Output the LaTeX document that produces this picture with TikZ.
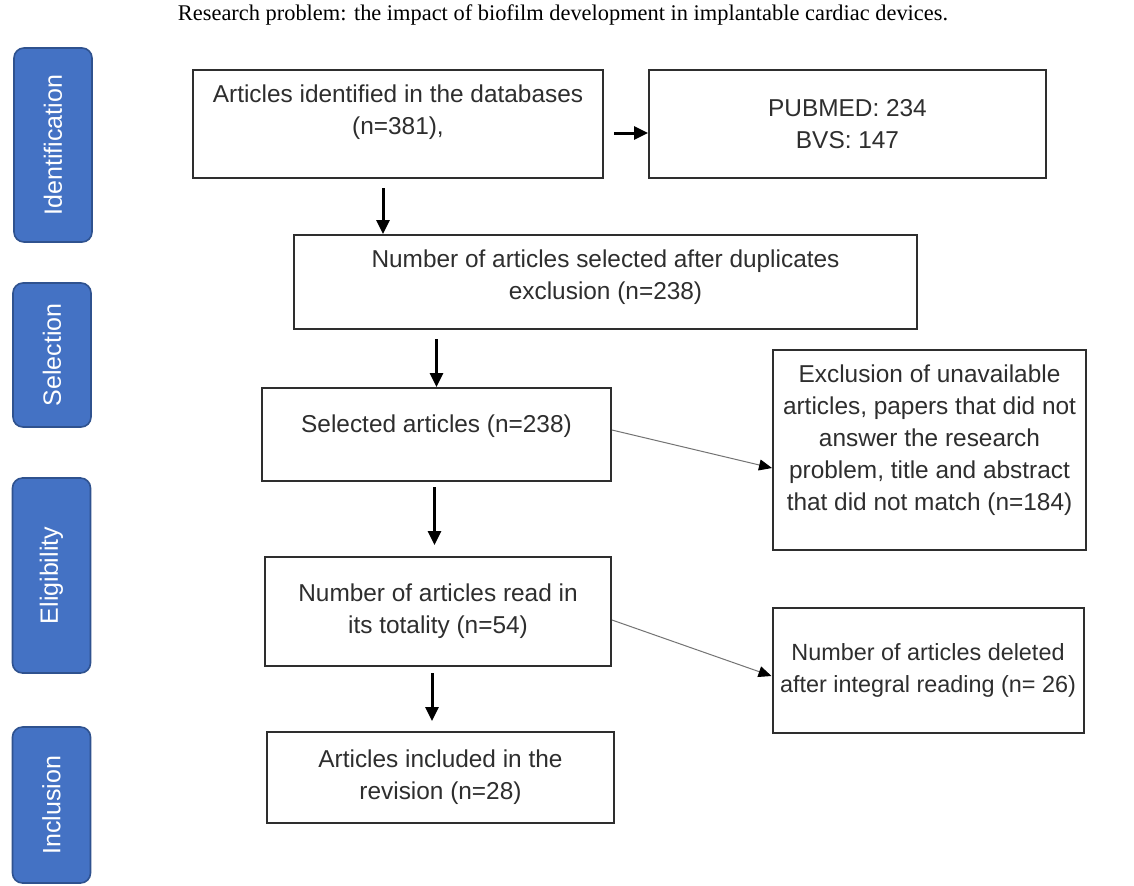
\documentclass[tikz,border=0pt]{standalone}
\usepackage{fontspec}
\setmainfont{Liberation Sans}
\newfontfamily\titlefont{Liberation Serif}
\usepackage{tikz}
\usetikzlibrary{arrows.meta, positioning, calc}
\definecolor{tabblue}{HTML}{4472C4}
\definecolor{tabedge}{HTML}{2F528F}
\definecolor{boxgray}{HTML}{2E2E2E}

\begin{document}
\begin{tikzpicture}[x=0.5pt, y=-0.5pt,
    flowbox/.style={rectangle, draw=boxgray, line width=1pt, align=center, inner sep=0pt, text=boxgray, font=\fontsize{12.2}{16}\selectfont},
    phasetab/.style={rectangle, rounded corners=5pt, draw=tabedge, line width=0.8pt, fill=tabblue, minimum height=39pt, text=white, rotate=90, font=\fontsize{12.5}{15}\selectfont},
    arr/.style={-{Triangle[length=7pt, width=6.5pt]}, line width=1.5pt, black},
    sidearr/.style={-{Triangle[length=6.5pt, width=5.5pt, color=black]}, draw=black!55, line width=0.5pt}]

  \useasboundingbox[fill=white] (0,0) rectangle (1134,885);

  % Title
  \node[font=\titlefont\fontsize{11.2}{13}\selectfont] (title) at (563,15)
    {Research problem: the impact of biofilm development in implantable cardiac devices.};

  % Phase tabs
  \node[phasetab, minimum width=97pt] (tid) at (53,145) {Identification};
  \node[phasetab, minimum width=72pt] (tsel) at (52,355) {Selection};
  \node[phasetab, minimum width=97.5pt] (telig) at (51.5,575.5) {Eligibility};
  \node[phasetab, minimum width=78pt] (tinc) at (51.5,805) {Inclusion};

  % Identification
  \node[flowbox, minimum width=205pt, minimum height=54pt] (found) at (398,124)
    {Articles identified in the databases\\(n=381),\\[-2pt]\mbox{}};
  \node[flowbox, minimum width=198.5pt, minimum height=54pt] (dbs) at (847.5,124)
    {PUBMED: 234\\BVS: 147};

  % Selection
  \node[flowbox, minimum width=311.5pt, minimum height=47pt] (dedup) at (605.5,282)
    {Number of articles selected after duplicates\\exclusion (n=238)\\[-9pt]\mbox{}};
  \node[flowbox, minimum width=174.5pt, minimum height=46.5pt] (sel) at (436.5,434.5)
    {Selected articles (n=238)\\[-5.5pt]\mbox{}};
  \node[flowbox, minimum width=156.5pt, minimum height=100pt] (excl) at (929.5,450)
    {Exclusion of unavailable\\articles, papers that did not\\answer the research\\problem, title and abstract\\that did not match (n=184)\\[-3.5pt]\mbox{}};

  % Eligibility
  \node[flowbox, minimum width=173pt, minimum height=54.5pt] (full) at (438,611.5)
    {Number of articles read in\\its totality (n=54)};
  \node[flowbox, minimum width=155.5pt, minimum height=62.5pt, font=\fontsize{11.7}{16}\selectfont] (del) at (928,670.5)
    {Number of articles deleted\\after integral reading (n= 26)};

  % Inclusion
  \node[flowbox, minimum width=173.5pt, minimum height=45.5pt] (incl) at (440.5,777.5)
    {Articles included in the\\revision (n=28)};

  \draw[arr, shorten <=5pt] ([yshift=-4.5pt]found.east) -- ([yshift=-4.5pt]dbs.west);
  \draw[arr, shorten <=4.5pt] ([xshift=-7.5pt]found.south) -- ([xshift=-7.5pt]found.south |- dedup.north);
  \draw[arr, shorten <=4.5pt] (sel.north |- dedup.south) -- (sel.north);
  \draw[sidearr] ([yshift=2.25pt]sel.east) -- ([yshift=-9pt]excl.west);
  \draw[arr, shorten <=2.5pt, shorten >=5.5pt] ([xshift=-1pt]sel.south) -- ([xshift=-1pt]sel.south |- full.north);
  \draw[sidearr] ([yshift=-4.25pt]full.east) -- ([yshift=-2.75pt]del.west);
  \draw[arr, shorten <=3pt, shorten >=5pt] ([xshift=-3pt]full.south) -- ([xshift=-3pt]full.south |- incl.north);
\end{tikzpicture}
\end{document}
